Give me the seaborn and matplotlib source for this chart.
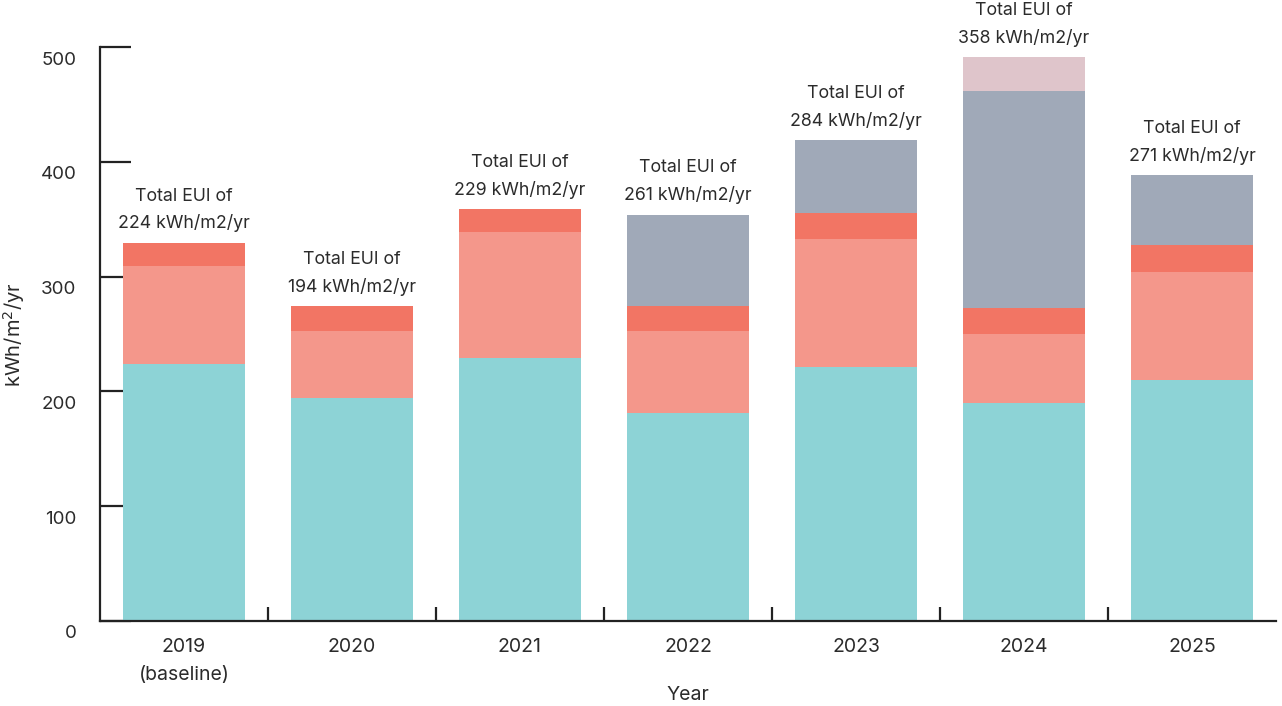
import matplotlib
matplotlib.use("Agg")
import matplotlib.pyplot as plt
import matplotlib.transforms as mtransforms
import numpy as np
import seaborn as sns

# values (kWh/m2/yr)
years = ["2019\n(baseline)", "2020", "2021", "2022", "2023", "2024", "2025"]
teal = [224, 194, 229, 181, 221, 190, 210]
salmon = [85, 59, 110, 72, 112, 60, 94]
red = [20.5, 21, 20, 21, 22, 23, 23.5]
grey = [0, 0, 0, 80, 64, 189, 61]
pink = [0, 0, 0, 0, 0, 29, 0]
total_eui = [224, 194, 229, 261, 284, 358, 271]

layers = [teal, salmon, red, grey, pink]
colors = ["#8DD3D6", "#F4978B", "#F27564", "#A0A9B8", "#DFC5CB"]

sns.set_theme(style="white")
plt.rcParams["font.family"] = ["Inter", "DejaVu Sans"]
txt = "#2b2b2b"

fig = plt.figure(figsize=(12.82, 7.06), dpi=100)
ax = fig.add_axes([0.078, 0.1204, 0.9173, 0.813])

bottom = np.zeros(len(years))
for vals, c in zip(layers, colors):
    sns.barplot(x=years, y=vals, bottom=bottom, color=c, width=0.726,
                saturation=1, ax=ax, linewidth=0)
    bottom = bottom + np.array(vals)

# labels above each stacked bar
for i, (top, eui) in enumerate(zip(bottom, total_eui)):
    ax.text(i, top + 9, f"Total EUI of\n{eui} kWh/m2/yr", ha="center", va="bottom",
            fontsize=12.8, color=txt, linespacing=1.7)

ax.set_xlim(-0.5, len(years) - 0.5)
ax.set_ylim(0, 500)
ax.set_yticks([0, 100, 200, 300, 400, 500])
ax.set_xticks(range(len(years)))
ax.set_xticklabels(years, fontsize=14, color=txt, linespacing=1.75)
ax.set_xticks(np.arange(0.5, len(years) - 0.5, 1), minor=True)

for s in ["top", "right"]:
    ax.spines[s].set_visible(False)
for s in ["left", "bottom"]:
    ax.spines[s].set_color("#222222")
    ax.spines[s].set_linewidth(1.6)

ax.tick_params(axis="y", left=True, direction="in", length=22, width=1.6,
               color="#222222", pad=17, labelsize=13.5, labelcolor=txt)
ax.tick_params(axis="x", which="major", bottom=False, length=0, pad=12)
ax.tick_params(axis="x", which="minor", bottom=True, direction="in", length=10,
               width=1.6, color="#222222")

# y tick labels sit a little below their tick marks
shift = mtransforms.ScaledTranslation(0, -11 / 100, fig.dpi_scale_trans)
for lab in ax.get_yticklabels():
    lab.set_transform(lab.get_transform() + shift)

ax.set_xlabel("Year", fontsize=14, color=txt, labelpad=1)
ax.set_ylabel("kWh/m$^2$/yr", fontsize=14.5, color=txt, labelpad=10)

plt.savefig("out.png", dpi=100)
